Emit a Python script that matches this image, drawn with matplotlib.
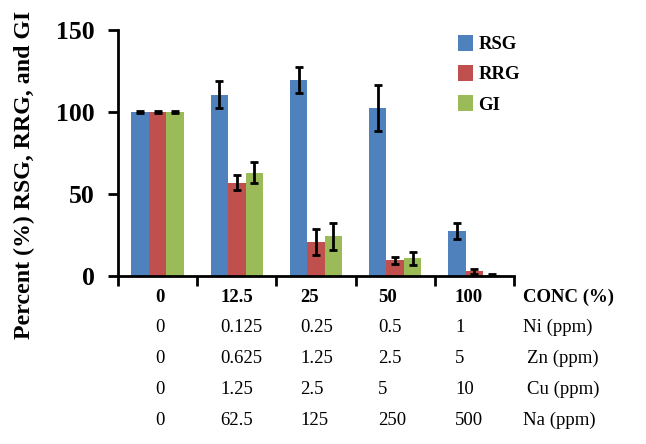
import numpy as np
import matplotlib.pyplot as plt

# data
conc = ['0', '12.5', '25', '50', '100']
rsg = [100, 110.5, 119.5, 102.5, 27.5]
rsg_err = [0.5, 8.3, 8.0, 14.0, 5.0]
rrg = [100, 57, 20.7, 9.6, 3.0]
rrg_err = [0.5, 4.7, 8.0, 2.0, 1.5]
gi = [100, 63, 24.2, 10.8, 0.8]
gi_err = [0.5, 6.4, 8.2, 4.0, 0.5]

ni = ['0', '0.125', '0.25', '0.5', '1']
zn = ['0', '0.625', '1.25', '2.5', '5']
cu = ['0', '1.25', '2.5', '5', '10']
na = ['0', '62.5', '125', '250', '500']
row_names = ['CONC (%)', 'Ni (ppm)', 'Zn (ppm)', 'Cu (ppm)', 'Na (ppm)']

plt.rcParams['font.family'] = ['Liberation Serif', 'DejaVu Serif']

W, H = 646, 444
fig = plt.figure(figsize=(W / 100, H / 100), dpi=100)
ax = fig.add_axes([118 / W, 1 - 276 / H, (514 - 118) / W, (276 - 30) / H])

x = np.arange(len(conc))
w = 0.22
err_kw = dict(ecolor='black', elinewidth=2, capsize=3, capthick=2)
ax.bar(x - w, rsg, w, yerr=rsg_err, color='#4F81BD', label='RSG', error_kw=err_kw)
ax.bar(x, rrg, w, yerr=rrg_err, color='#C0504D', label='RRG', error_kw=err_kw)
ax.bar(x + w, gi, w, yerr=gi_err, color='#9BBB59', label='GI', error_kw=err_kw)

ax.set_xlim(-0.5, len(conc) - 0.5)
ax.set_ylim(0, 150)
ax.set_yticks([0, 50, 100, 150])
ax.set_xticks(np.arange(len(conc) + 1) - 0.5)
ax.set_xticklabels([])
ax.tick_params(axis='y', labelsize=18.5, width=2, length=7, direction='out', pad=10)
ax.tick_params(axis='x', width=2, length=7, direction='out')
for t in ax.get_yticklabels():
    t.set_fontweight('bold')
for s in ['top', 'right']:
    ax.spines[s].set_visible(False)
ax.spines['left'].set_linewidth(2)
ax.spines['bottom'].set_linewidth(2)

leg = ax.legend(loc='upper left', bbox_to_anchor=(0.815, 1.05), frameon=False,
                prop={'weight': 'bold', 'size': 13.5}, handlelength=0.8,
                handleheight=1.0, handletextpad=0.3, labelspacing=0.6)

fig.text(24.5 / W, 1 - 175 / H, 'Percent (%) RSG, RRG, and GI', rotation=90,
         ha='center', va='center', fontsize=17.2, fontweight='bold')

# table under the axis
rows = [conc, ni, zn, cu, na]
col_x = [155, 220, 300, 378, 455]
name_x = [523, 523, 527, 527, 523]
row_y = [297, 327, 358, 389, 420]
for r, vals in enumerate(rows):
    wt = 'bold' if r == 0 else 'normal'
    for c, v in enumerate(vals):
        fig.text(col_x[c] / W, 1 - row_y[r] / H, v, ha='left', va='center',
                 fontsize=13.5, fontweight=wt)
    fig.text(name_x[r] / W, 1 - row_y[r] / H, row_names[r], ha='left',
             va='center', fontsize=13.5, fontweight=wt)

fig.savefig('out.png', dpi=100)
